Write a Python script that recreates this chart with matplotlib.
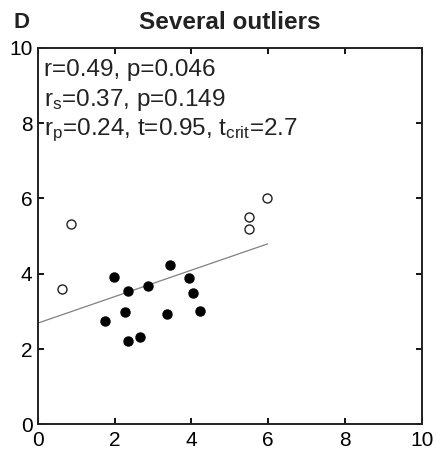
import numpy as np
import matplotlib
matplotlib.use('Agg')
import matplotlib.pyplot as plt

plt.rcParams['font.family'] = ['Liberation Sans', 'DejaVu Sans']
plt.rcParams['mathtext.fontset'] = 'custom'
plt.rcParams['mathtext.rm'] = 'Liberation Sans'
plt.rcParams['mathtext.it'] = 'Liberation Sans'

# main cluster (filled)
x_in = [1.97, 2.34, 2.86, 3.44, 3.93, 4.04, 4.23, 3.36, 2.27, 1.75, 2.34, 2.66]
y_in = [3.92, 3.54, 3.68, 4.23, 3.89, 3.48, 3.01, 2.93, 2.99, 2.75, 2.21, 2.33]
# outliers (open)
x_out = [0.85, 0.64, 5.49, 5.49, 5.98]
y_out = [5.32, 3.59, 5.51, 5.20, 6.00]

stats = ['r=0.49, p=0.046',
         r'r$_\mathrm{s}$=0.37, p=0.149',
         r'r$_\mathrm{p}$=0.24, t=0.95, t$_\mathrm{crit}$=2.7']

x_all = np.array(x_in + x_out)
y_all = np.array(y_in + y_out)
slope, icpt = np.polyfit(x_all, y_all, 1)  # least squares line over all points

fig = plt.figure(figsize=(4.36, 4.51), dpi=100)
ax = fig.add_axes([0.087, 0.059, 0.880, 0.835])

xl = np.array([0, x_all.max()])
ax.plot(xl, icpt + slope * xl, color='#808080', lw=0.9)
ax.plot(x_in, y_in, 'o', color='black', ms=6.5, mec='black')
ax.plot(x_out, y_out, 'o', mfc='white', mec='#222222', ms=6.5, mew=1.0)

ax.set_xlim(0, 10)
ax.set_ylim(0, 10)
ax.set_xticks([0, 2, 4, 6, 8, 10])
ax.set_yticks([0, 2, 4, 6, 8, 10])
ax.tick_params(direction='in', length=4, width=1.3, top=True, right=True,
               labelsize=15)
ax.tick_params(axis='x', pad=5)
ax.tick_params(axis='y', pad=4)
for s in ax.spines.values():
    s.set_linewidth(1.4)
    s.set_color('#222222')

for i, t in enumerate(stats):
    ax.text(0.17, 9.42 - i * 0.8, t, fontsize=17.5, va='center', ha='left',
            color='#222222')

fig.text(0.527, 0.951, 'Several outliers', fontsize=17.5, fontweight='bold',
         ha='center', va='center', color='#222222')
fig.text(0.05, 0.951, 'D', fontsize=16, fontweight='bold', ha='center',
         va='center', color='#222222')

fig.savefig('out.png', dpi=100)
